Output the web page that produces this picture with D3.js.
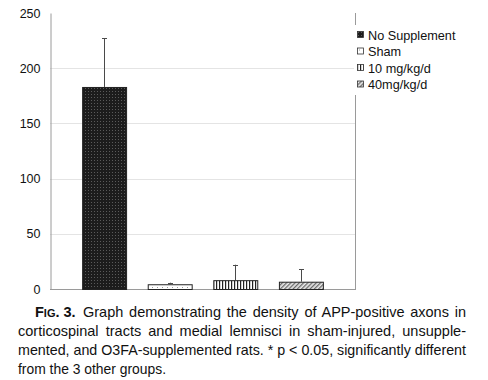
<!doctype html>
<html lang="en">
<head>
  <meta charset="utf-8">
  <title>Fig. 3</title>
  <script src="https://cdn.jsdelivr.net/npm/d3@7"></script>
  <style>
    body { margin: 0; background: #fff; }
    svg { display: block; font-family: "Liberation Sans", Arial, sans-serif; }
  </style>
</head>
<body>
  <div id="chart"></div>
  <script>
    // values
    const groups = ["No Supplement", "Sham", "10 mg/kg/d", "40mg/kg/d"];
    const means = [183, 4.3, 8, 6.6];
    const errors = [44, 1.4, 14, 11.2];
    const yTicks = [0, 50, 100, 150, 200, 250];
    const captionLines = [
      "Graph demonstrating the density of APP-positive axons in",
      "corticospinal tracts and medial lemnisci in sham-injured, unsupple-",
      "mented, and O3FA-supplemented rats. * p < 0.05, significantly different",
      "from the 3 other groups."
    ];

    const w = 488;
    const h = 380;
    const plot = { left: 50, right: 355, top: 13, bottom: 289 };
    const AXIS_GREY = "#9a9a9a";
    const GRID_GREY = "#e4e4e4";
    const CAPTION_FONT = "'Liberation Sans Narrow', 'Arial Narrow', 'Liberation Sans', Arial, sans-serif";

    const svg = d3.select("#chart")
      .append("svg")
      .attr("width", w)
      .attr("height", h);

    // fill patterns, one per group
    const defs = svg.append("defs");

    const p0 = defs.append("pattern").attr("id", "pat0")
      .attr("patternUnits", "userSpaceOnUse").attr("width", 3).attr("height", 3);
    p0.append("rect").attr("width", 3).attr("height", 3).attr("fill", "#1c1c1c");
    p0.append("rect").attr("x", 1).attr("y", 1).attr("width", 1).attr("height", 1).attr("fill", "#5a5a5a");

    const p1 = defs.append("pattern").attr("id", "pat1")
      .attr("patternUnits", "userSpaceOnUse").attr("width", 5).attr("height", 5);
    p1.append("rect").attr("width", 5).attr("height", 5).attr("fill", "#fff");
    p1.append("rect").attr("x", 2).attr("y", 2).attr("width", 1).attr("height", 1).attr("fill", "#999");

    const p2 = defs.append("pattern").attr("id", "pat2")
      .attr("patternUnits", "userSpaceOnUse").attr("width", 3).attr("height", 3);
    p2.append("rect").attr("width", 3).attr("height", 3).attr("fill", "#fff");
    p2.append("rect").attr("x", 0).attr("width", 1.2).attr("height", 3).attr("fill", "#222");

    const p3 = defs.append("pattern").attr("id", "pat3")
      .attr("patternUnits", "userSpaceOnUse").attr("width", 3).attr("height", 3)
      .attr("patternTransform", "rotate(45)");
    p3.append("rect").attr("width", 3).attr("height", 3).attr("fill", "#e8e8e8");
    p3.append("rect").attr("width", 1.3).attr("height", 3).attr("fill", "#6a6a6a");

    // scales
    const x = d3.scaleBand()
      .domain(groups)
      .range([plot.left, plot.right])
      .paddingInner(0.33)
      .paddingOuter(0.49);

    const y = d3.scaleLinear()
      .domain([0, 250])
      .range([plot.bottom, plot.top]);

    // gridlines
    svg.append("g")
      .selectAll("line")
      .data(yTicks.filter(d => d > 0 && d < 250))
      .join("line")
      .attr("x1", plot.left)
      .attr("x2", plot.right)
      .attr("y1", d => Math.round(y(d)) + 0.5)
      .attr("y2", d => Math.round(y(d)) + 0.5)
      .attr("stroke", GRID_GREY)
      .attr("stroke-width", 1);

    // right frame line
    svg.append("line")
      .attr("x1", plot.right + 0.5).attr("x2", plot.right + 0.5)
      .attr("y1", plot.top).attr("y2", plot.bottom)
      .attr("stroke", AXIS_GREY);

    // y axis
    const yAxis = d3.axisLeft(y)
      .tickValues(yTicks)
      .tickSize(0)
      .tickPadding(10);

    const gy = svg.append("g")
      .attr("transform", `translate(${plot.left + 0.5},0)`)
      .call(yAxis);
    gy.select(".domain").attr("stroke", AXIS_GREY);
    gy.selectAll("text")
      .style("font-size", "12.5px")
      .style("font-family", "'Liberation Sans', Arial, sans-serif")
      .attr("fill", "#111");

    // x axis line (no labels)
    svg.append("line")
      .attr("x1", plot.left).attr("x2", plot.right + 1)
      .attr("y1", plot.bottom + 0.5).attr("y2", plot.bottom + 0.5)
      .attr("stroke", AXIS_GREY);

    // bars
    svg.append("g")
      .selectAll("rect")
      .data(groups)
      .join("rect")
      .attr("x", d => x(d) + 0.5)
      .attr("y", (d, i) => y(means[i]) + 0.5)
      .attr("width", x.bandwidth())
      .attr("height", (d, i) => y(0) - y(means[i]))
      .attr("fill", (d, i) => `url(#pat${i})`)
      .attr("stroke", "#222")
      .attr("stroke-width", 1);

    // upper error bars
    const err = svg.append("g")
      .selectAll("g")
      .data(groups)
      .join("g")
      .attr("stroke", "#4a4a4a")
      .attr("stroke-width", 1);

    err.append("line")
      .attr("x1", d => Math.round(x(d) + x.bandwidth() / 2) + 0.5)
      .attr("x2", d => Math.round(x(d) + x.bandwidth() / 2) + 0.5)
      .attr("y1", (d, i) => y(means[i]))
      .attr("y2", (d, i) => y(means[i] + errors[i]));

    err.append("line")
      .attr("x1", d => Math.round(x(d) + x.bandwidth() / 2) - 2)
      .attr("x2", d => Math.round(x(d) + x.bandwidth() / 2) + 3)
      .attr("y1", (d, i) => Math.round(y(means[i] + errors[i])) + 0.5)
      .attr("y2", (d, i) => Math.round(y(means[i] + errors[i])) + 0.5);

    // legend
    const legend = svg.append("g")
      .attr("transform", "translate(357,31)");

    legend.append("rect")
      .attr("x", -3).attr("y", -6)
      .attr("width", 100).attr("height", 70)
      .attr("fill", "#fff");

    const item = legend.selectAll("g")
      .data(groups)
      .join("g")
      .attr("transform", (d, i) => `translate(0,${i * 16.5})`);

    item.append("rect")
      .attr("x", 0.5).attr("y", 0.5)
      .attr("width", 6).attr("height", 6)
      .attr("fill", (d, i) => `url(#pat${i})`)
      .attr("stroke", "#333")
      .attr("stroke-width", 0.8);

    item.append("text")
      .attr("x", 11)
      .attr("y", 8.5)
      .style("font-size", "12.7px")
      .attr("fill", "#111")
      .text(d => d);

    // caption
    const cap = svg.append("g")
      .style("font-size", "14.5px")
      .style("font-family", CAPTION_FONT)
      .attr("fill", "#111");

    const figLabel = cap.append("text")
      .attr("x", 35)
      .attr("y", 317)
      .style("font-weight", "bold");
    figLabel.append("tspan").text("F");
    figLabel.append("tspan").style("font-size", "11px").text("IG");
    figLabel.append("tspan").text(". 3.");

    const lineStarts = [83, 18, 18, 18];
    const lineEnds = [466, 466, 466, 166];

    cap.selectAll("text.line")
      .data(captionLines)
      .join("text")
      .attr("class", "line")
      .attr("x", (d, i) => lineStarts[i])
      .attr("y", (d, i) => 317 + i * 19)
      .text(d => d)
      .each(function (d, i) {
        // justify: spread free space over word gaps, or squeeze if too wide
        const target = lineEnds[i] - lineStarts[i];
        const natural = this.getComputedTextLength();
        const gaps = d.split(" ").length - 1;
        if (natural < target && i < 3) {
          d3.select(this).style("word-spacing", `${(target - natural) / gaps}px`);
        } else if (natural > target) {
          d3.select(this)
            .attr("textLength", target)
            .attr("lengthAdjust", "spacingAndGlyphs");
        }
      });
  </script>
</body>
</html>
